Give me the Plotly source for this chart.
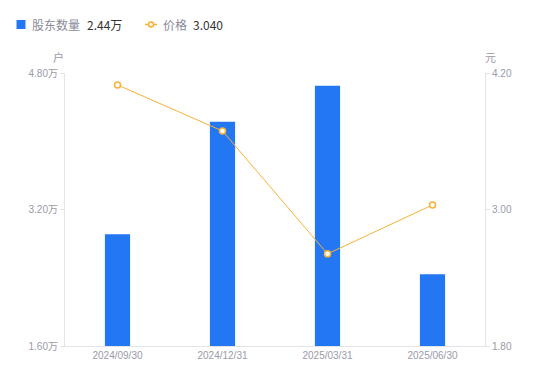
import plotly.graph_objects as go

categories = ["2024/09/30", "2024/12/31", "2025/03/31", "2025/06/30"]
holders = [2.91, 4.23, 4.65, 2.44]   # 万户
price = [4.095, 3.69, 2.61, 3.04]    # 元

left_ticks = [1.60, 3.20, 4.80]
left_ticktext = ["1.60万", "3.20万", "4.80万"]
right_ticks = [1.80, 3.00, 4.20]
right_ticktext = ["1.80", "3.00", "4.20"]

legend_names = ["股东数量", "价格"]
legend_values = ["2.44万", "3.040"]

font_family = "Liberation Sans, Noto Sans CJK SC, sans-serif"
gray = "#9a9aa8"
axis_line = "#e3e3e8"
blue = "#2477f2"
orange = "#f7b135"

W, H = 550, 381
L, R, T, B = 65, 65, 73, 35
pw, ph = W - L - R, H - T - B


def px(x):
    return (x - L) / pw


def py(y):
    return (H - B - y) / ph


fig = go.Figure()
fig.add_trace(go.Bar(
    x=categories, y=holders, name=legend_names[0],
    marker=dict(color=blue, line=dict(width=0)), width=0.24, yaxis="y",
))
fig.add_trace(go.Scatter(
    x=categories, y=price, name=legend_names[1],
    mode="lines+markers", yaxis="y2",
    line=dict(color=orange, width=1),
    marker=dict(symbol="circle", size=6, color="white", line=dict(color=orange, width=1.5)),
))

shapes = [
    dict(type="rect", xref="paper", yref="paper", x0=px(16.5), x1=px(25.5), y0=py(29), y1=py(20),
         fillcolor=blue, line=dict(width=0)),
    dict(type="line", xref="paper", yref="paper", x0=px(145), x1=px(157), y0=py(24.5), y1=py(24.5),
         line=dict(color=orange, width=1.5)),
    dict(type="circle", xref="paper", yref="paper", x0=px(148.5), x1=px(153.5), y0=py(27), y1=py(22),
         fillcolor="white", line=dict(color=orange, width=1.5)),
]

legend_font = "Noto Sans CJK SC, sans-serif"
annotations = [
    dict(text=legend_names[0], xref="paper", yref="paper", x=px(30), y=py(24.5), xanchor="left",
         yanchor="middle", showarrow=False, font=dict(size=12, color="#8a8a99", family=legend_font)),
    dict(text=legend_values[0], xref="paper", yref="paper", x=px(85), y=py(24.5), xanchor="left",
         yanchor="middle", showarrow=False, font=dict(size=12, color="#333333", family=legend_font)),
    dict(text=legend_names[1], xref="paper", yref="paper", x=px(161), y=py(24.5), xanchor="left",
         yanchor="middle", showarrow=False, font=dict(size=12, color="#8a8a99", family=legend_font)),
    dict(text=legend_values[1], xref="paper", yref="paper", x=px(191), y=py(24.5), xanchor="left",
         yanchor="middle", showarrow=False, font=dict(size=12, color="#333333", family=legend_font)),
    dict(text="户", xref="paper", yref="paper", x=px(58), y=py(57), xanchor="center",
         yanchor="middle", showarrow=False, font=dict(size=11, color=gray, family=legend_font)),
    dict(text="元", xref="paper", yref="paper", x=px(490), y=py(57), xanchor="center",
         yanchor="middle", showarrow=False, font=dict(size=11, color=gray, family=legend_font)),
]

fig.update_layout(
    width=W, height=H,
    margin=dict(l=L, r=R, t=T, b=B),
    paper_bgcolor="white", plot_bgcolor="white",
    font=dict(family=font_family, size=10, color=gray),
    showlegend=False,
    xaxis=dict(showgrid=False, showline=True, linecolor=axis_line, linewidth=1,
               ticks="", tickfont=dict(size=10, color=gray), zeroline=False),
    yaxis=dict(range=[1.60, 4.80], tickvals=left_ticks, ticktext=left_ticktext,
               showgrid=False, showline=True, linecolor=axis_line, linewidth=1,
               ticks="outside", ticklen=4, tickcolor=axis_line,
               tickfont=dict(size=10, color=gray), zeroline=False),
    yaxis2=dict(range=[1.80, 4.20], tickvals=right_ticks, ticktext=right_ticktext,
                overlaying="y", side="right",
                showgrid=False, showline=True, linecolor=axis_line, linewidth=1,
                ticks="outside", ticklen=4, tickcolor=axis_line,
                tickfont=dict(size=10, color=gray), zeroline=False),
    shapes=shapes,
    annotations=annotations,
)

fig.write_html("out.html")
